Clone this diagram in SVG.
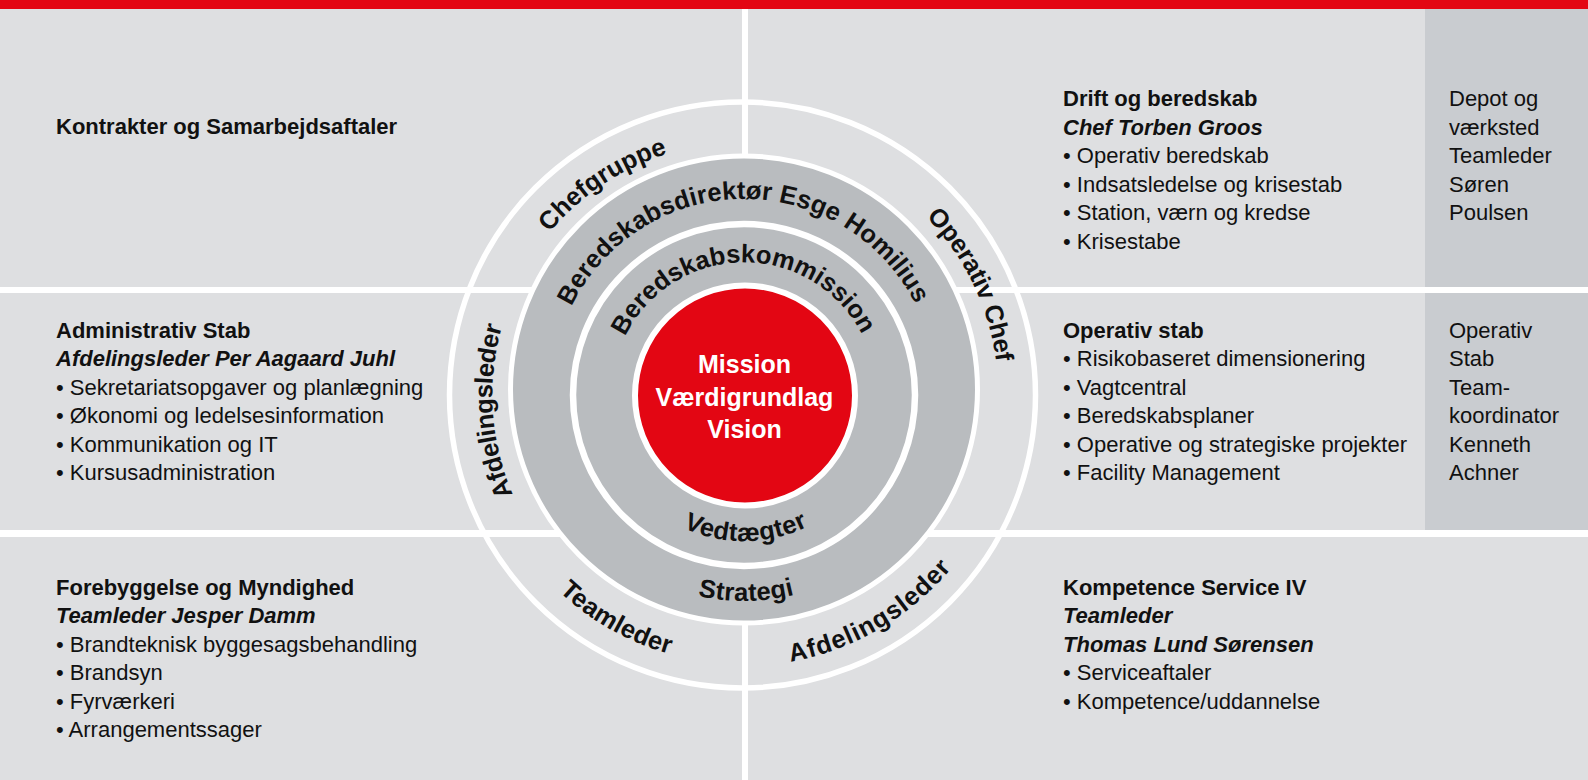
<svg xmlns="http://www.w3.org/2000/svg" width="1588" height="780" viewBox="0 0 1588 780">
<style>
text{font-family:"Liberation Sans",Arial,sans-serif;fill:#111;}
.t{font-size:22px;}
.b{font-weight:bold;}
.bi{font-weight:bold;font-style:italic;}
.ring{font-size:25.5px;font-weight:bold;}
.ctr{font-size:25px;font-weight:bold;fill:#fff;text-anchor:middle;}
.wl{stroke:#fff;fill:none;}
</style>
<defs>
<path id="pChef" d="M511.8,496.5 A252.5,252.5 0 0 1 925.6,220.5"/>
<path id="pDir" d="M554.7,359 A192,192 0 0 1 932.9,356.3"/>
<path id="pKom" d="M613.3,373.1 A132.5,132.5 0 0 1 874.3,370.9"/>
<path id="pOpc" d="M673.4,149.2 A255.5,255.5 0 0 1 892.5,602.2"/>
<path id="pAfdL" d="M715.5,644 A250.5,250.5 0 0 1 683.7,151.6"/>
<path id="pVed" d="M600.5,422.1 A146,146 0 0 0 888.1,418.6"/>
<path id="pStr" d="M537.6,429.6 A210,210 0 0 0 951.2,425.3"/>
<path id="pTeam" d="M489,305 A269.5,269.5 0 0 0 950.9,566.4"/>
<path id="pAfdR" d="M536,569.9 A271,271 0 0 0 997.3,301.4"/>
</defs>
<rect x="0" y="0" width="1588" height="780" fill="#dedfe1"/>
<rect x="0" y="0" width="1588" height="9" fill="#e30613"/>
<rect x="1425" y="9" width="163" height="521" fill="#c9ccd0"/>
<g id="connectors">
<line class="wl" x1="0" y1="290" x2="1588" y2="290" stroke-width="6"/>
<line class="wl" x1="0" y1="533.5" x2="1588" y2="533.5" stroke-width="7"/>
<line class="wl" x1="745" y1="9" x2="745" y2="780" stroke-width="6"/>
</g>
<g id="rings">
<circle class="wl" cx="742.5" cy="395" r="293" stroke-width="5.5"/>
<circle cx="744" cy="389.5" r="233.5" fill="#b9bcbf" stroke="#fff" stroke-width="5"/>
<circle class="wl" cx="744" cy="395" r="171" stroke-width="6.5"/>
<circle cx="745" cy="395.5" r="110" fill="#e30613" stroke="#fff" stroke-width="6"/>
</g>
<g id="ring-labels">
<text class="ring"><textPath href="#pChef" startOffset="50%" text-anchor="middle" textLength="144" lengthAdjust="spacing">Chefgruppe</textPath></text>
<text class="ring"><textPath href="#pDir" startOffset="50%" text-anchor="middle" textLength="426" lengthAdjust="spacing">Beredskabsdirektør Esge Homilius</textPath></text>
<text class="ring"><textPath href="#pKom" startOffset="50%" text-anchor="middle" textLength="293" lengthAdjust="spacing">Beredskabskommission</textPath></text>
<text class="ring"><textPath href="#pOpc" startOffset="50%" text-anchor="middle" textLength="164" lengthAdjust="spacing">Operativ Chef</textPath></text>
<text class="ring"><textPath href="#pAfdL" startOffset="50%" text-anchor="middle" textLength="172" lengthAdjust="spacing">Afdelingsleder</textPath></text>
<text class="ring"><textPath href="#pVed" startOffset="50%" text-anchor="middle" textLength="129" lengthAdjust="spacing">Vedtægter</textPath></text>
<text class="ring"><textPath href="#pStr" startOffset="50%" text-anchor="middle" textLength="97.4" lengthAdjust="spacing">Strategi</textPath></text>
<text class="ring"><textPath href="#pTeam" startOffset="50%" text-anchor="middle" textLength="128" lengthAdjust="spacing">Teamleder</textPath></text>
<text class="ring"><textPath href="#pAfdR" startOffset="50%" text-anchor="middle" textLength="190" lengthAdjust="spacing">Afdelingsleder</textPath></text>
</g>
<g id="center">
<text class="ctr" x="744.5" y="373">Mission</text>
<text class="ctr" x="744.5" y="405.5">Værdigrundlag</text>
<text class="ctr" x="744.5" y="438">Vision</text>
</g>
<g id="kontrakter">
<text class="t b" x="56" y="134">Kontrakter og Samarbejdsaftaler</text>
</g>
<g id="drift">
<text class="t b" x="1063" y="106">Drift og beredskab</text>
<text class="t bi" x="1063" y="134.5">Chef Torben Groos</text>
<text class="t" x="1063" y="163">• Operativ beredskab</text>
<text class="t" x="1063" y="191.5">• Indsatsledelse og krisestab</text>
<text class="t" x="1063" y="220">• Station, værn og kredse</text>
<text class="t" x="1063" y="248.5">• Krisestabe</text>
</g>
<g id="depot">
<text class="t" x="1449" y="106">Depot og</text>
<text class="t" x="1449" y="134.5">værksted</text>
<text class="t" x="1449" y="163">Teamleder</text>
<text class="t" x="1449" y="191.5">Søren</text>
<text class="t" x="1449" y="220">Poulsen</text>
</g>
<g id="admin">
<text class="t b" x="56" y="337.5">Administrativ Stab</text>
<text class="t bi" x="56" y="366">Afdelingsleder Per Aagaard Juhl</text>
<text class="t" x="56" y="394.5">• Sekretariatsopgaver og planlægning</text>
<text class="t" x="56" y="423">• Økonomi og ledelsesinformation</text>
<text class="t" x="56" y="451.5">• Kommunikation og IT</text>
<text class="t" x="56" y="480">• Kursusadministration</text>
</g>
<g id="opstab">
<text class="t b" x="1063" y="337.5">Operativ stab</text>
<text class="t" x="1063" y="366">• Risikobaseret dimensionering</text>
<text class="t" x="1063" y="394.5">• Vagtcentral</text>
<text class="t" x="1063" y="423">• Beredskabsplaner</text>
<text class="t" x="1063" y="451.5">• Operative og strategiske projekter</text>
<text class="t" x="1063" y="480">• Facility Management</text>
</g>
<g id="teamkoord">
<text class="t" x="1449" y="337.5">Operativ</text>
<text class="t" x="1449" y="366">Stab</text>
<text class="t" x="1449" y="394.5">Team-</text>
<text class="t" x="1449" y="423">koordinator</text>
<text class="t" x="1449" y="451.5">Kenneth</text>
<text class="t" x="1449" y="480">Achner</text>
</g>
<g id="forebyggelse">
<text class="t b" x="56" y="594.5">Forebyggelse og Myndighed</text>
<text class="t bi" x="56" y="623">Teamleder Jesper Damm</text>
<text class="t" x="56" y="651.5">• Brandteknisk byggesagsbehandling</text>
<text class="t" x="56" y="680">• Brandsyn</text>
<text class="t" x="56" y="708.5">• Fyrværkeri</text>
<text class="t" x="56" y="737">• Arrangementssager</text>
</g>
<g id="kompetence">
<text class="t b" x="1063" y="594.5">Kompetence Service IV</text>
<text class="t bi" x="1063" y="623">Teamleder</text>
<text class="t bi" x="1063" y="651.5">Thomas Lund Sørensen</text>
<text class="t" x="1063" y="680">• Serviceaftaler</text>
<text class="t" x="1063" y="708.5">• Kompetence/uddannelse</text>
</g>
</svg>
